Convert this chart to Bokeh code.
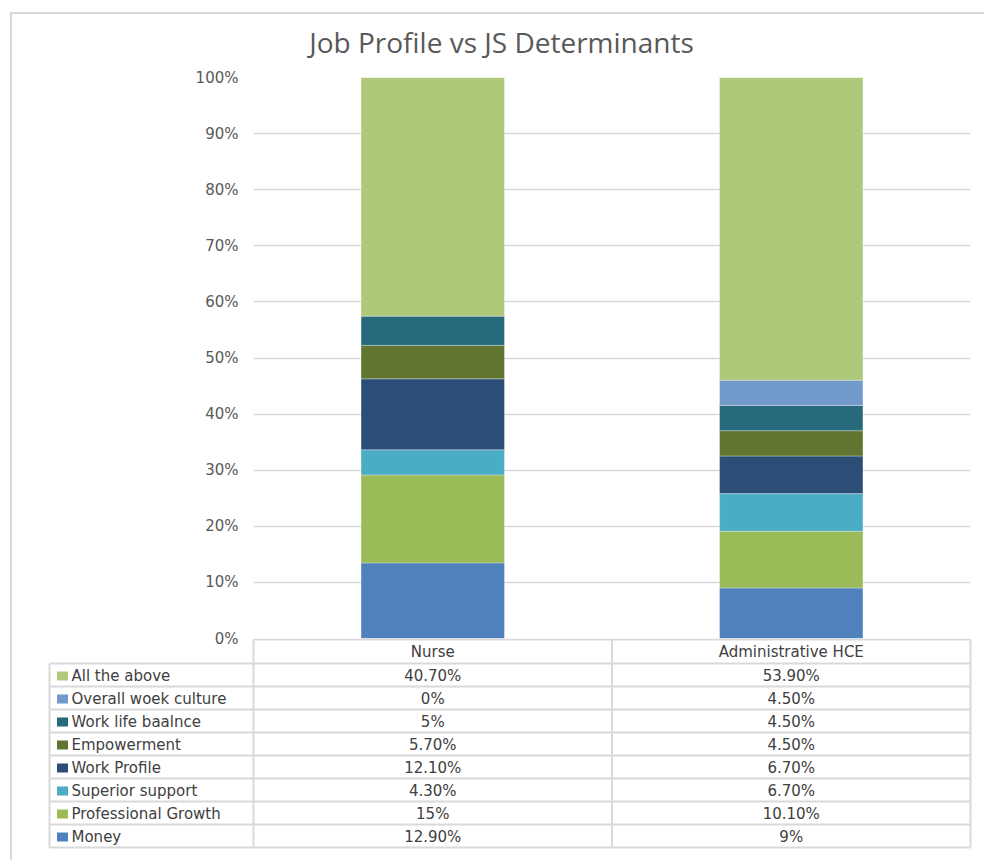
from bokeh.plotting import figure
from bokeh.models import Range1d, FixedTicker, NumeralTickFormatter, ColumnDataSource
from bokeh.layouts import column
from bokeh.embed import file_html
from bokeh.resources import INLINE
from bokeh.core.properties import value

# ---------------- data ----------------
categories = ["Nurse", "Administrative HCE"]
series = ["Money", "Professional Growth", "Superior support", "Work Profile",
          "Empowerment", "Work life baalnce", "Overall woek culture", "All the above"]
nurse = [12.9, 15, 4.3, 12.1, 5.7, 5, 0, 40.7]
admin = [9, 10.1, 6.7, 6.7, 4.5, 4.5, 4.5, 53.9]
nurse_labels = ["12.90%", "15%", "4.30%", "12.10%", "5.70%", "5%", "0%", "40.70%"]
admin_labels = ["9%", "10.10%", "6.70%", "6.70%", "4.50%", "4.50%", "4.50%", "53.90%"]
colors = ["#4F81BD", "#9BBB59", "#4BACC6", "#2C4D75",
          "#5F7530", "#276A7C", "#729ACA", "#AFC97A"]
y_ticks = [0, 0.1, 0.2, 0.3, 0.4, 0.5, 0.6, 0.7, 0.8, 0.9, 1.0]
title = "Job Profile vs JS Determinants"

GRID = "#d9d9d9"
TXT = "#595959"
TXT2 = "#404040"
FONT = "DejaVu Sans"

ox, oy = 12, 14  # content origin inside outer border
W = 984 - ox
frame_l, frame_r, frame_t, frame_b = 253, 970, 77, 638
extra_b = 14

# ---------------- title strip (drawn underneath the chart's transparent border) ----------------
H0 = 50
p0 = figure(width=W, height=H0, output_backend="svg", toolbar_location=None,
            x_range=Range1d(ox, 984), y_range=Range1d(oy + H0, oy),
            min_border=0, x_axis_location=None, y_axis_location=None)
p0.frame_align = False
p0.outline_line_color = None
p0.grid.visible = False
p0.background_fill_color = None
p0.border_fill_color = None
p0.text(x=[501], y=[41], text=[title], text_font=value("Open Sans"),
        text_font_size="28px", text_color=TXT, text_align="center",
        text_baseline="middle")

# ---------------- chart ----------------
p1 = figure(width=W, height=frame_b - oy + extra_b, output_backend="svg",
            toolbar_location=None,
            x_range=Range1d(0, 2), y_range=Range1d(0, 1),
            min_border_left=frame_l - ox, min_border_right=(984 - frame_r),
            min_border_top=frame_t - oy, min_border_bottom=extra_b,
            x_axis_location=None, margin=(-H0, 0, 0, 0))
p1.frame_align = False
p1.outline_line_color = None
p1.background_fill_color = "white"
p1.border_fill_color = None

ntot = sum(nurse)
atot = sum(admin)
data = {"x": [0.5, 1.5]}
for s, n, a in zip(series, nurse, admin):
    data[s] = [n / ntot, a / atot]
src = ColumnDataSource(data)
p1.vbar_stack(series, x="x", width=0.4, source=src, fill_color=colors,
              line_color="white", line_alpha=0.3, line_width=1)

p1.xgrid.visible = False
p1.ygrid.grid_line_color = GRID
p1.ygrid.grid_line_width = 1.5
p1.yaxis.ticker = FixedTicker(ticks=y_ticks)
p1.yaxis.formatter = NumeralTickFormatter(format="0%")
p1.yaxis.axis_line_color = None
p1.yaxis.major_tick_line_color = None
p1.yaxis.minor_tick_line_color = None
p1.yaxis.major_label_standoff = 9
p1.yaxis.major_label_text_font = FONT
p1.yaxis.major_label_text_font_size = "15px"
p1.yaxis.major_label_text_color = TXT

# ---------------- data table ----------------
tb_top = frame_b
H2 = 860 - tb_top
p2 = figure(width=W, height=H2, output_backend="svg", toolbar_location=None,
            x_range=Range1d(ox, 984), y_range=Range1d(860, tb_top),
            min_border=0, x_axis_location=None, y_axis_location=None,
            margin=(-extra_b, 0, 0, 0))
p2.frame_align = False
p2.outline_line_color = None
p2.grid.visible = False
p2.background_fill_color = None
p2.border_fill_color = None

col_x = [frame_l, (frame_l + frame_r) / 2, frame_r]
left_x = 49
row_top = 663
row_h = 23
n_rows = len(series)
rows_bottom = row_top + row_h * n_rows

# horizontal lines
hx0 = [frame_l] + [left_x] * (n_rows + 1)
hx1 = [frame_r] * (n_rows + 2)
hy = [tb_top + 1] + [row_top + row_h * i for i in range(n_rows + 1)]
p2.segment(x0=hx0, y0=hy, x1=hx1, y1=hy, line_color=GRID, line_width=2)
# vertical lines
vx = [left_x] + col_x
vy0 = [row_top] + [tb_top + 1] * 3
vy1 = [rows_bottom] * 4
p2.segment(x0=vx, y0=vy0, x1=vx, y1=vy1, line_color=GRID, line_width=2)

centers = [(col_x[0] + col_x[1]) / 2, (col_x[1] + col_x[2]) / 2]
p2.text(x=centers, y=[(tb_top + row_top) / 2 + 1] * 2, text=categories,
        text_font=value(FONT), text_font_size="15px", text_color=TXT2,
        text_align="center", text_baseline="middle")

rev = list(range(n_rows))[::-1]
ys = [row_top + row_h * (k + 0.5) + 1 for k in range(n_rows)]
p2.rect(x=[62] * n_rows, y=ys, width=11, height=9,
        fill_color=[colors[i] for i in rev], line_color=None)
p2.text(x=[71] * n_rows, y=ys, text=[series[i] for i in rev],
        text_font=value(FONT), text_font_size="15px", text_color=TXT2,
        text_align="left", text_baseline="middle")
p2.text(x=[centers[0]] * n_rows, y=ys, text=[nurse_labels[i] for i in rev],
        text_font=value(FONT), text_font_size="15px", text_color=TXT2,
        text_align="center", text_baseline="middle")
p2.text(x=[centers[1]] * n_rows, y=ys, text=[admin_labels[i] for i in rev],
        text_font=value(FONT), text_font_size="15px", text_color=TXT2,
        text_align="center", text_baseline="middle")

layout = column(p0, p1, p2, spacing=0, margin=(12, 0, 0, 10),
                styles={"border-left": "2px solid #d9d9d9",
                        "border-top": "2px solid #d9d9d9",
                        "background-color": "white"})

open("out.html", "w").write(file_html(layout, INLINE))
